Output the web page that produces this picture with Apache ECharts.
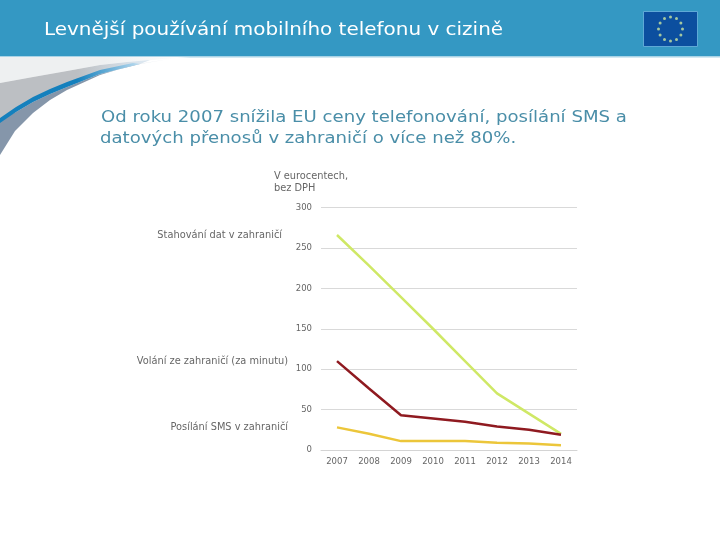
<!DOCTYPE html>
<html>
<head>
<meta charset="utf-8">
<title>Levnější používání mobilního telefonu v cizině</title>
<script src="https://cdn.jsdelivr.net/npm/echarts@6/dist/echarts.min.js"></script>
<style>
html, body { margin: 0; padding: 0; background: #fff; }
#chart { width: 720px; height: 540px; }
</style>
</head>
<body>
<div id="chart"></div>
<script>
const years = ['2007', '2008', '2009', '2010', '2011', '2012', '2013', '2014'];
const dataDownload = [266, 228, 189, 150, 110, 70, 45, 20];
const calls = [110, 76, 43, 39, 35, 29, 25, 19];
const sms = [28, 20, 11, 11, 11, 9, 8, 6];

const titleText = 'Levnější používání mobilního telefonu v cizině';
const bodyLines = [
    'Od roku 2007 snížila EU ceny telefonování, posílání SMS a',
    'datových přenosů v zahraničí o více než 80%.'
];
const unitText = 'V eurocentech,\nbez DPH';
const seriesNames = ['Stahování dat v zahraničí', 'Volání ze zahraničí (za minutu)', 'Posílání SMS v zahraničí'];

const font = '"DejaVu Sans", sans-serif';
const chart = echarts.init(document.getElementById('chart'));

function fade(from, to) {
    return {
        type: 'linear', x: 0, y: 0, x2: 1, y2: 0, global: true,
        colorStops: [{ offset: 0, color: from }, { offset: 0.55, color: from }, { offset: 1, color: to }]
    };
}

function fadeTo(from, to, endX) {
    const g = fade(from, to);
    g.x2 = endX;
    return g;
}

// decorative swoosh under the header, back to front
const grayTop = [[127, 62], [100, 65], [67, 71], [33, 77], [0, 83]];
const blueTop = [[0, 118], [16, 107], [33, 97], [50, 89], [67, 82], [100, 70], [133, 63]];
const blueBottom = [[140, 64], [100, 74], [67, 87], [50, 94], [33, 102], [16, 112], [0, 123]];
const slateBottom = [[175, 58], [133, 65], [100, 75], [67, 90], [50, 100], [33, 113], [15, 131], [0, 155]];
const swoosh = [
    { pts: [[0, 57], [190, 57], [127, 62]].concat(grayTop.slice(1)), fill: fadeTo('#eef0f1', '#ffffff', 190) },
    { pts: grayTop.slice().reverse().concat([[150, 60]], blueBottom), fill: fadeTo('#bcbfc3', '#dbe6ef', 140) },
    { pts: [[0, 120]].concat(blueBottom.slice().reverse().slice(1), slateBottom), fill: fadeTo('#8596aa', '#e6edf3', 175) },
    { pts: blueTop.concat(blueBottom), fill: fadeTo('#1480bd', '#bcdcf0', 140) }
];

const graphics = [
    { type: 'rect', shape: { x: 0, y: 0, width: 720, height: 56 }, style: { fill: '#3498c3' } },
    { type: 'rect', shape: { x: 0, y: 56, width: 720, height: 1.5 }, style: { fill: '#a9d3e6' } },
    { type: 'text', x: 44, y: 30, scaleX: 1.109, style: { text: titleText, font: '18px ' + font, fill: '#fff', textVerticalAlign: 'middle' } },
    { type: 'rect', shape: { x: 643.5, y: 11.5, width: 54, height: 35 }, style: { fill: '#0c4f9f', stroke: '#5fa9d6', lineWidth: 1 } }
];
swoosh.forEach(s => graphics.push({ type: 'polygon', shape: { points: s.pts }, style: { fill: s.fill } }));
for (let i = 0; i < 12; i++) {
    const a = i * Math.PI / 6;
    graphics.push({
        type: 'circle',
        shape: { cx: 670.5 + 12 * Math.sin(a), cy: 29 - 12 * Math.cos(a), r: 1.5 },
        style: { fill: '#a4c7a0' }
    });
}
bodyLines.forEach((line, i) => graphics.push({
    type: 'text', x: i === 0 ? 101 : 100, y: 118 + i * 21, scaleX: 1.098,
    style: { text: line, font: '16.5px ' + font, fill: '#4a8ea8', textVerticalAlign: 'middle' }
}));
graphics.push({
    type: 'text', x: 274, y: 182,
    style: { text: unitText, font: '9.8px ' + font, fill: '#666', lineHeight: 12, textVerticalAlign: 'middle' }
});
[[282, 235], [288, 361], [288, 427]].forEach((p, i) => graphics.push({
    type: 'text', x: p[0], y: p[1],
    style: { text: seriesNames[i], font: '9.8px ' + font, fill: '#666', textAlign: 'right', textVerticalAlign: 'middle' }
}));

function lineSeries(name, values, color) {
    return {
        name: name, type: 'line', data: values, showSymbol: false, symbol: 'none',
        lineStyle: { color: color, width: 2.5 }, z: 3
    };
}

chart.setOption({
    animation: false,
    backgroundColor: '#fff',
    grid: { left: 321, top: 207.5, width: 256, height: 242.5 },
    xAxis: {
        type: 'category', data: years, boundaryGap: true,
        axisLine: { lineStyle: { color: '#d4d4d4' } },
        axisTick: { show: true, length: 3, interval: i => i === 8, lineStyle: { color: '#d4d4d4' } },
        axisLabel: { color: '#666', fontSize: 8.5, fontFamily: font, margin: 7 }
    },
    yAxis: {
        type: 'value', min: 0, max: 300, interval: 50,
        axisLine: { show: false },
        axisTick: { show: false },
        splitLine: { lineStyle: { color: '#d9d9d9' } },
        axisLabel: { color: '#666', fontSize: 8.5, fontFamily: font, margin: 9 }
    },
    series: [
        lineSeries(seriesNames[0], dataDownload, '#cfe866'),
        lineSeries(seriesNames[1], calls, '#8f1a20'),
        lineSeries(seriesNames[2], sms, '#ecc63a')
    ],
    graphic: graphics
});
</script>
</body>
</html>
